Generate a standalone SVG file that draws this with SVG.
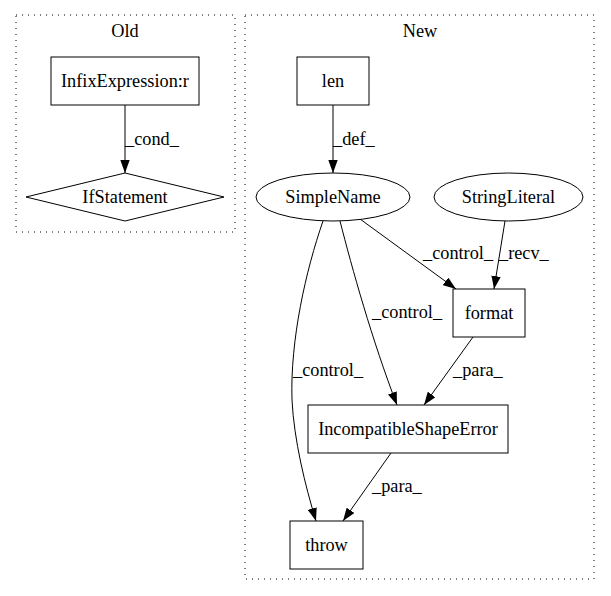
<svg xmlns="http://www.w3.org/2000/svg" width="611" height="596" viewBox="0 0 611 596">
<style>
text{font-family:"Liberation Serif","Times New Roman",serif;font-size:18.3px;fill:#000}
.c{text-anchor:middle}
.n{fill:#fff;stroke:#000;stroke-width:1}
.cl{fill:none;stroke:#000;stroke-dasharray:1,5}
.e{fill:none;stroke:#000;stroke-width:1}
</style>
<defs>
<marker id="ah" viewBox="0 0 13 9.4" refX="13" refY="4.7" markerWidth="13" markerHeight="9.4" markerUnits="userSpaceOnUse" orient="auto">
<path d="M0,0 L13,4.7 L0,9.4 z" fill="#000"/>
</marker>
</defs>
<rect width="611" height="596" fill="#fff"/>
<g id="cluster_old">
<rect class="cl" x="16" y="15" width="219" height="217"/>
<text class="c" x="125" y="37">Old</text>
</g>
<g id="cluster_new">
<rect class="cl" x="245" y="15" width="349" height="564"/>
<text class="c" x="420" y="37">New</text>
</g>
<g id="edges">
<path class="e" d="M125,105 L125,173" marker-end="url(#ah)"/>
<text x="125" y="145">_cond_</text>
<path class="e" d="M333,105 L333,173" marker-end="url(#ah)"/>
<text x="333" y="145">_def_</text>
<path class="e" d="M360,219 L456,289" marker-end="url(#ah)"/>
<text x="423" y="259">_control_</text>
<path class="e" d="M505,221 L494,289" marker-end="url(#ah)"/>
<text x="499" y="259">_recv_</text>
<path class="e" d="M340,221 C352,268 372,340 397,405" marker-end="url(#ah)"/>
<text x="372" y="318">_control_</text>
<path class="e" d="M323,221 C306,270 290,340 292,400 C294,440 305,485 316,521" marker-end="url(#ah)"/>
<text x="293" y="376">_control_</text>
<path class="e" d="M473,337 L424,405" marker-end="url(#ah)"/>
<text x="453" y="376">_para_</text>
<path class="e" d="M391,453 L343,521" marker-end="url(#ah)"/>
<text x="372" y="492">_para_</text>
</g>
<g id="InfixExpression">
<rect class="n" x="51" y="57" width="148" height="48"/>
<text class="c" x="125" y="87">InfixExpression:r</text>
</g>
<g id="IfStatement">
<polygon class="n" points="125,173 224,197 125,221 26,197"/>
<text class="c" x="125" y="203">IfStatement</text>
</g>
<g id="len">
<rect class="n" x="297" y="57" width="72" height="48"/>
<text class="c" x="333" y="87">len</text>
</g>
<g id="SimpleName">
<ellipse class="n" cx="333" cy="197" rx="77" ry="24"/>
<text class="c" x="333" y="203">SimpleName</text>
</g>
<g id="StringLiteral">
<ellipse class="n" cx="508.5" cy="197" rx="74.5" ry="24"/>
<text class="c" x="508.5" y="203">StringLiteral</text>
</g>
<g id="format">
<rect class="n" x="453" y="289" width="72" height="48"/>
<text class="c" x="489" y="319">format</text>
</g>
<g id="IncompatibleShapeError">
<rect class="n" x="308" y="405" width="200" height="48"/>
<text class="c" x="408" y="435">IncompatibleShapeError</text>
</g>
<g id="throw">
<rect class="n" x="290" y="521" width="73" height="48"/>
<text class="c" x="326.5" y="551">throw</text>
</g>
</svg>
